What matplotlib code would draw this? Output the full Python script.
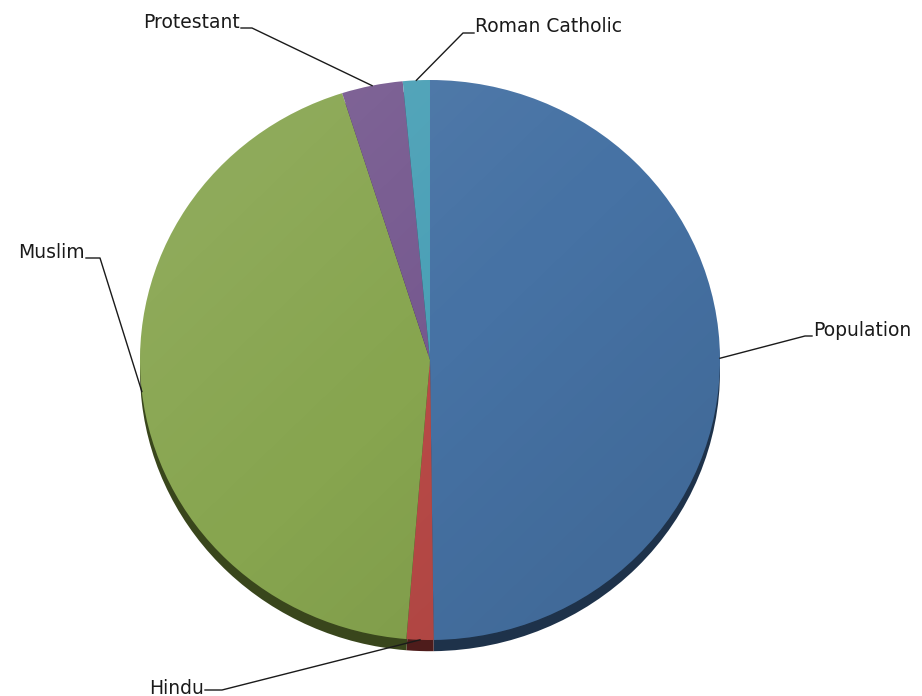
import matplotlib.pyplot as plt
import numpy as np
from matplotlib.patches import Ellipse

# slice data, clockwise from 12 o'clock
labels = ["Population", "Hindu", "Muslim", "Protestant", "Roman Catholic"]
values = [49.8, 1.5, 43.8, 3.4, 1.5]
colors = ["#4672a4", "#b94a47", "#87a54f", "#76598f", "#4aa0b6"]
shadow_colors = ["#1e324a", "#4e1c1b", "#39461c", "#33263f", "#1f4a55"]

# label text positions (pixels from top-left) and elbow points of the leader lines
text_pos = {
    "Population": (812, 330, "left"),
    "Hindu": (205, 688, "right"),
    "Muslim": (86, 252, "right"),
    "Protestant": (241, 22, "right"),
    "Roman Catholic": (474, 27, "left"),
}
elbow_pos = {
    "Population": (805, 336),
    "Hindu": (222, 690),
    "Muslim": (100, 258),
    "Protestant": (252, 28),
    "Roman Catholic": (463, 33),
}

W, H = 922, 696
fig = plt.figure(figsize=(W / 100, H / 100), dpi=100)
# pie box in pixels: x 140..720, y 80..640 (from top)
ax = fig.add_axes([140 / W, (H - 640) / H, 580 / W, 560 / H])


def px2data(px, py):
    return (px - 430) / 290.0, (360 - py) / 280.0


# shadow pie, shifted down
ax.pie(values, colors=shadow_colors, startangle=90, counterclock=False,
       radius=1.0, center=(0.0, -0.04),
       wedgeprops=dict(linewidth=0))
wedges, _ = ax.pie(values, colors=colors, startangle=90, counterclock=False,
                   radius=1.0, center=(0.0, 0.0),
                   wedgeprops=dict(linewidth=0))

# soft lighting over the pie
yy, xx = np.mgrid[-1:1:300j, -1:1:300j]
shade = np.clip(0.5 * (xx - yy), -1, 1)
rgba = np.zeros((300, 300, 4))
rgba[..., :3] = (shade < 0)[..., None] * 1.0
rgba[..., 3] = np.abs(shade) * 0.10
im = ax.imshow(rgba, extent=(-1, 1, -1, 1), origin="lower", zorder=3,
               interpolation="bilinear")
im.set_clip_path(Ellipse((0, 0), 2, 2, transform=ax.transData))

ax.set_aspect("auto")
ax.set_xlim(-1, 1)
ax.set_ylim(-1, 1)
ax.axis("off")

# leader lines and labels
for w, lab in zip(wedges, labels):
    mid = np.deg2rad((w.theta1 + w.theta2) / 2.0)
    ax_x, ax_y = np.cos(mid), np.sin(mid)
    ex, ey = px2data(*elbow_pos[lab])
    tx, ty, ha = text_pos[lab]
    tdx, tdy = px2data(tx, ty + 6)
    ax.plot([ax_x, ex, tdx], [ax_y, ey, ey], color="#1a1a1a", lw=1.0,
            clip_on=False, zorder=4)
    ax.text(tdx + (0.005 if ha == "left" else -0.005), px2data(0, ty)[1], lab,
            ha=ha, va="center", fontsize=13.5, color="#1a1a1a", clip_on=False)

fig.savefig("out.png", dpi=100)
